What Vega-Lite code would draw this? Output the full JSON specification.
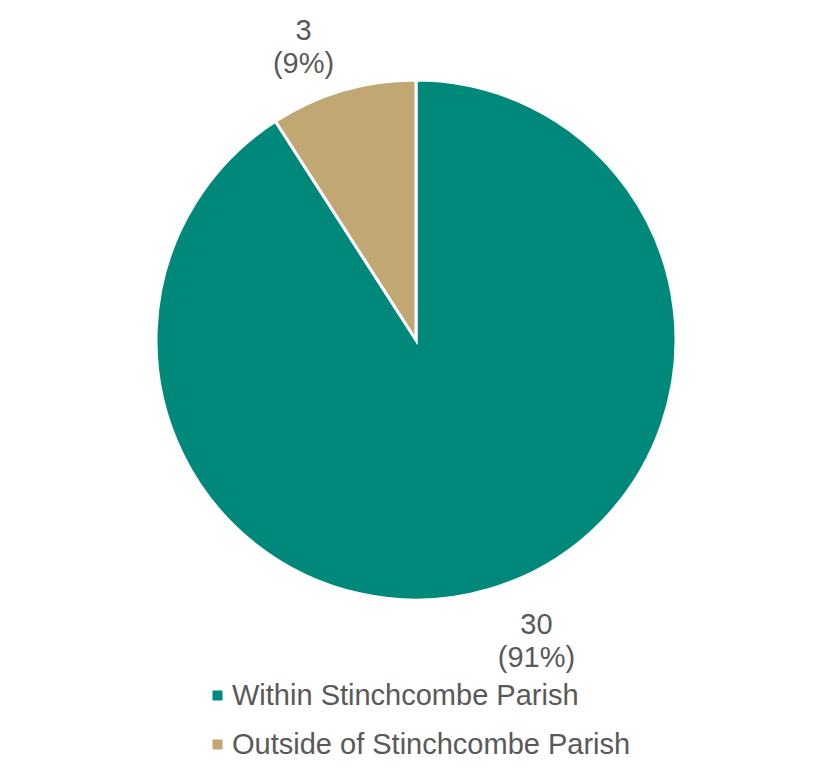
{
  "$schema": "https://vega.github.io/schema/vega-lite/v6.json",
  "width": 832,
  "height": 680,
  "padding": 0,
  "background": "white",
  "config": {"view": {"stroke": null}, "font": "Liberation Sans"},
  "data": {"values": [
    {"category": "Within Stinchcombe Parish", "value": 30, "label": "30\n(91%)"},
    {"category": "Outside of Stinchcombe Parish", "value": 3, "label": "3\n(9%)"}
  ]},
  "encoding": {
    "theta": {"field": "value", "type": "quantitative", "stack": true},
    "order": {"field": "value", "type": "quantitative", "sort": "descending"}
  },
  "layer": [
    {
      "mark": {"type": "arc", "radius": 260, "stroke": "white", "strokeWidth": 3},
      "encoding": {
        "color": {
          "field": "category", "type": "nominal",
          "scale": {"domain": ["Within Stinchcombe Parish", "Outside of Stinchcombe Parish"], "range": ["#00897B", "#C1A774"]},
          "legend": {
            "title": null, "orient": "none", "legendX": 203, "legendY": 681, "direction": "vertical",
            "symbolType": "square", "symbolSize": 100, "symbolStrokeWidth": 0,
            "labelFont": "Liberation Sans", "labelFontSize": 29, "labelColor": "#595959",
            "labelOffset": 0, "rowPadding": 19, "labelLimit": 800
          }
        }
      }
    },
    {
      "mark": {"type": "text", "radius": 319, "thetaOffset": -0.088, "dx": 4, "dy": -12, "lineBreak": "\n", "lineHeight": 33,
               "fontSize": 29, "font": "Liberation Sans", "color": "#595959", "align": "center", "baseline": "middle"},
      "encoding": {"text": {"field": "label"}}
    }
  ]
}
